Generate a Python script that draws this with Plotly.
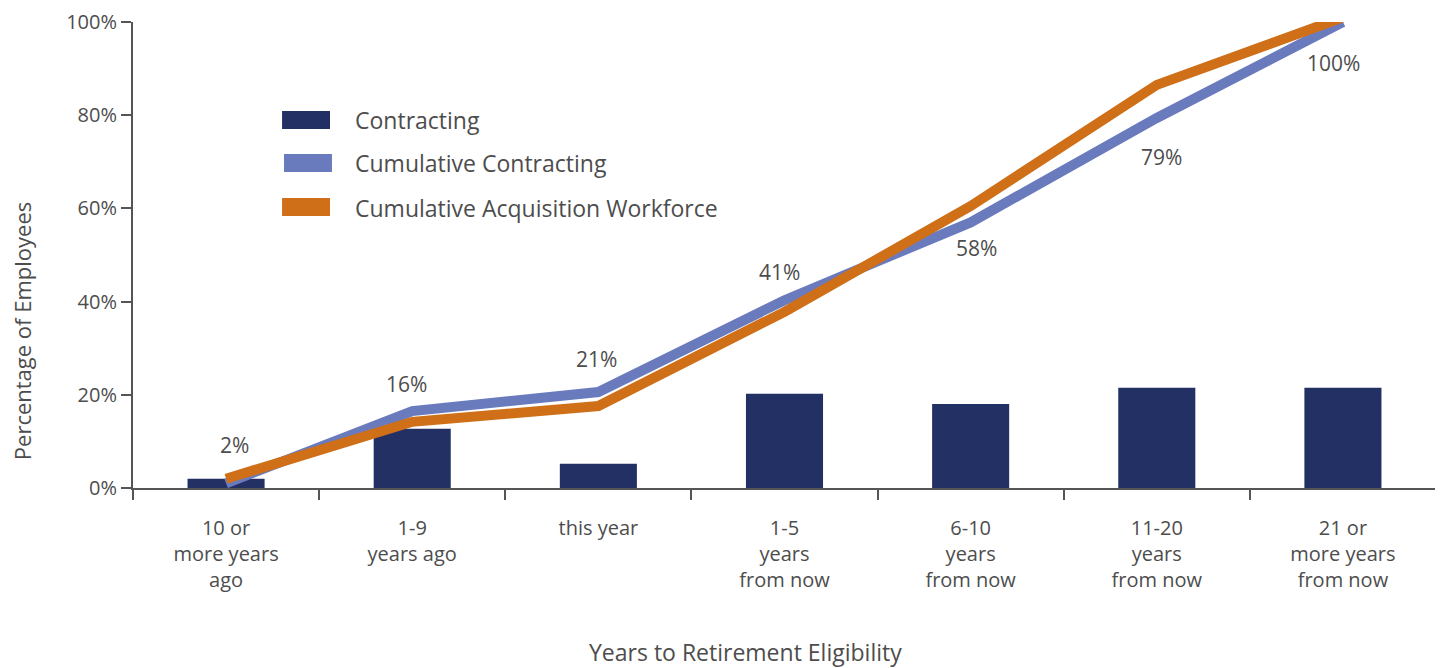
import plotly.graph_objects as go

# ---- data ----
categories = [
    "10 or<br>more years<br>ago",
    "1-9<br>years ago",
    "this year",
    "1-5<br>years<br>from now",
    "6-10<br>years<br>from now",
    "11-20<br>years<br>from now",
    "21 or<br>more years<br>from now",
]
contracting = [2.0, 12.7, 5.2, 20.2, 18.0, 21.5, 21.5]
cumulative_contracting = [1.0, 16.5, 20.6, 40.3, 57.0, 79.4, 100.0]
cumulative_acquisition = [2.0, 14.2, 17.6, 37.8, 60.5, 86.5, 101.0]
label_texts = ["2%", "16%", "21%", "41%", "58%", "79%", "100%"]
y_ticks = [0, 20, 40, 60, 80, 100]
series_names = ["Contracting", "Cumulative Contracting", "Cumulative Acquisition Workforce"]
series_colors = ["#223064", "#6a7bbd", "#cf6f18"]

# label offsets (pixels) relative to the cumulative contracting points
label_shift_x = [8, -6, -2, -5, 6, 5, -9]
label_shift_y = [38, 27, 33, 28, -26, -39, -41]

FONT = "Open Sans, Noto Sans, Liberation Sans, sans-serif"
TXT = "#4d4d4d"
AX = "#555555"

fig = go.Figure()
fig.add_trace(go.Bar(
    x=categories, y=contracting, name=series_names[0],
    marker=dict(color=series_colors[0], line=dict(width=0)),
    width=0.414,
))
fig.add_trace(go.Scatter(
    x=categories, y=cumulative_contracting, name=series_names[1],
    mode="lines", line=dict(color=series_colors[1], width=10),
    cliponaxis=False,
))
fig.add_trace(go.Scatter(
    x=categories, y=cumulative_acquisition, name=series_names[2],
    mode="lines", line=dict(color=series_colors[2], width=10),
    cliponaxis=False,
))

for i, t in enumerate(label_texts):
    fig.add_annotation(
        x=categories[i], y=cumulative_contracting[i], text=t, showarrow=False,
        xshift=label_shift_x[i], yshift=label_shift_y[i],
        font=dict(family=FONT, size=21, color=TXT),
    )

# legend (drawn as swatches + text, positioned in paper coordinates)
legend_rows = [
    dict(x0=0.1144, x1=0.1512, y0=0.7704, y1=0.8090, ty=0.7897),
    dict(x0=0.1159, x1=0.1527, y0=0.6780, y1=0.7167, ty=0.6974),
    dict(x0=0.1144, x1=0.1512, y0=0.5837, y1=0.6223, ty=0.6009),
]
for name, color, row in zip(series_names, series_colors, legend_rows):
    fig.add_shape(
        type="rect", xref="paper", yref="paper",
        x0=row["x0"], x1=row["x1"], y0=row["y0"], y1=row["y1"],
        fillcolor=color, line=dict(width=0),
    )
    fig.add_annotation(
        xref="paper", yref="paper", x=0.1688, y=row["ty"], text=name,
        showarrow=False, xanchor="left", yanchor="middle",
        font=dict(family=FONT, size=23, color=TXT),
    )

fig.add_annotation(
    xref="paper", yref="paper", x=-0.085, y=0.337, text="Percentage of Employees",
    textangle=-90, showarrow=False, xanchor="center", yanchor="middle",
    font=dict(family=FONT, size=22, color=TXT),
)
fig.add_annotation(
    xref="paper", yref="paper", x=0.470, y=-0.352, text="Years to Retirement Eligibility",
    showarrow=False, xanchor="center", yanchor="middle",
    font=dict(family=FONT, size=23, color=TXT),
)

# page body has an 8px margin: size the figure so it fills the 1443x668 window
fig.update_layout(
    width=1435, height=660,
    margin=dict(l=125, r=7, t=14, b=180),
    paper_bgcolor="white", plot_bgcolor="white",
    showlegend=False,
    bargap=0.586,
)
fig.update_xaxes(
    type="category", showgrid=False, showline=True, linecolor=AX, linewidth=2,
    ticks="outside", tickson="boundaries", ticklen=10, tickwidth=2, tickcolor=AX,
    tickfont=dict(family=FONT, size=20, color=TXT), ticklabelstandoff=21,
    range=[-0.5, 6.5], automargin=False,
)
fig.update_yaxes(
    range=[0, 100], tickvals=y_ticks, ticktext=[f"{v}%" for v in y_ticks],
    showgrid=False, zeroline=False, showline=True, linecolor=AX, linewidth=2,
    ticks="outside", ticklen=10, tickwidth=2, tickcolor=AX,
    tickfont=dict(family=FONT, size=20, color=TXT), automargin=False,
)

fig.write_html("out.html")
